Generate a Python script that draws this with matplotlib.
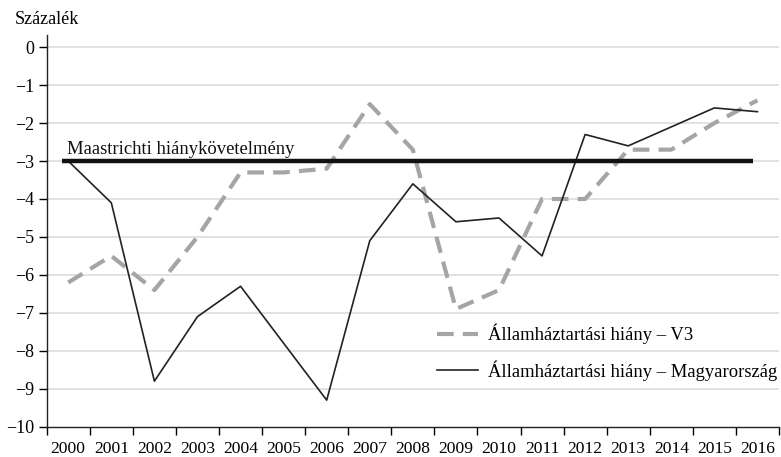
import matplotlib.pyplot as plt
import numpy as np

years = [str(y) for y in range(2000, 2017)]
v3 = [-6.2, -5.5, -6.4, -5.0, -3.3, -3.3, -3.2, -1.5, -2.7, -6.9, -6.4,
      -4.0, -4.0, -2.7, -2.7, -2.0, -1.4]
hungary = [-3.0, -4.1, -8.8, -7.1, -6.3, -7.8, -9.3, -5.1, -3.6, -4.6, -4.5,
           -5.5, -2.3, -2.6, -2.1, -1.6, -1.7]
maastricht = -3.0
yticks = list(range(0, -11, -1))

plt.rcParams['font.family'] = ['Liberation Serif', 'DejaVu Serif']

fig = plt.figure(figsize=(7.81, 4.57), dpi=100)
ax = fig.add_axes([0.0598, 0.0663, 0.9376, 0.857])

x = np.arange(len(years))

# gridlines
for t in yticks:
    if t > -10:
        ax.axhline(t, color='#e2e2e2', lw=1.4, zorder=0)

ax.plot(x, v3, color='#a5a5a5', lw=3.0, ls=(0, (4.0, 2.2)),
        label='Államháztartási hiány – V3', zorder=3)
ax.plot(x, hungary, color='#222222', lw=1.2,
        label='Államháztartási hiány – Magyarország', zorder=4)
ax.hlines(maastricht, -0.15, 15.9, color='#111111', lw=3.2, zorder=5)
ax.text(-0.02, maastricht + 0.07, 'Maastrichti hiánykövetelmény',
        fontsize=13.4, va='bottom', ha='left', color='#111111')

ax.set_xlim(-0.5, len(years) - 0.5)
ax.set_ylim(-10, 0.32)

ax.set_xticks(x)
ax.set_xticklabels(years, fontsize=12.6)
ax.set_xticks(np.arange(-0.5, len(years)), minor=True)
ax.tick_params(axis='x', which='major', length=0, pad=10)
ax.tick_params(axis='x', which='minor', length=6, width=1, direction='out')

ax.set_yticks(yticks)
ax.set_yticklabels([str(t).replace('-', '\u2212') for t in yticks], fontsize=13)
ax.tick_params(axis='y', length=6, width=1, pad=3)

for s in ['top', 'right']:
    ax.spines[s].set_visible(False)
for s in ['left', 'bottom']:
    ax.spines[s].set_linewidth(1.0)
    ax.spines[s].set_color('#222222')

fig.text(0.019, 0.957, 'Százalék', fontsize=13, ha='left', va='center')

leg = ax.legend(loc='upper left', bbox_to_anchor=(0.55, 0.308),
                bbox_transform=fig.transFigure, frameon=False, fontsize=13.4,
                handlelength=2.2, handletextpad=0.55, labelspacing=0.85,
                borderaxespad=0)

fig.savefig('out.png', dpi=100)
